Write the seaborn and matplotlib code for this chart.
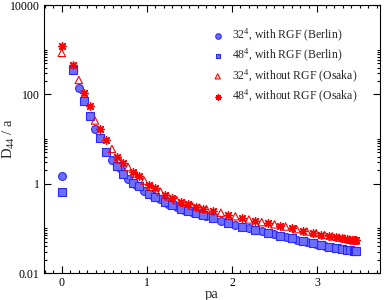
import matplotlib
matplotlib.use("Agg")
import matplotlib.pyplot as plt
import matplotlib.ticker as mticker
import seaborn as sns
import numpy as np
import pandas as pd

# momenta (p a) for the two lattice sizes
pa_32 = [0.00, 0.20, 0.39, 0.59, 0.68, 0.78, 0.87, 0.97, 1.06, 1.16, 1.25,
         1.35, 1.44, 1.53, 1.62, 1.70, 1.87, 2.04, 2.20, 2.35, 2.50, 2.63,
         2.76, 2.88, 2.99, 3.09, 3.18, 3.26, 3.32, 3.38, 3.42, 3.45, 3.46]
pa_48 = [0.00, 0.13, 0.26, 0.33, 0.45, 0.52, 0.65, 0.72, 0.84, 0.91, 1.03,
         1.10, 1.21, 1.29, 1.40, 1.48, 1.58, 1.66, 1.78, 1.95, 2.12, 2.27,
         2.42, 2.57, 2.70, 2.83, 2.95, 3.05, 3.14, 3.22, 3.29, 3.35, 3.39,
         3.43, 3.45, 3.46]

# D44 / a
berlin_32 = [1.5, 140, 17, 3.4, 2.2, 1.25, 0.95, 0.69, 0.55, 0.45, 0.355,
             0.30, 0.26, 0.235, 0.21, 0.19, 0.148, 0.12, 0.102, 0.087, 0.074,
             0.065, 0.056, 0.050, 0.045, 0.041, 0.038, 0.0355, 0.034, 0.0325,
             0.0316, 0.031, 0.031]
osaka_32 = [850, 210, 26, 6.0, 3.5, 2.35, 1.65, 1.17, 0.85, 0.66, 0.52,
            0.43, 0.37, 0.32, 0.29, 0.27, 0.224, 0.186, 0.158, 0.138, 0.123,
            0.11, 0.096, 0.085, 0.078, 0.071, 0.066, 0.062, 0.059, 0.056,
            0.055, 0.054, 0.054]
berlin_48 = [0.66, 360, 70, 32, 10.5, 5.2, 2.5, 1.65, 1.02, 0.87, 0.60,
             0.51, 0.38, 0.33, 0.275, 0.245, 0.22, 0.20, 0.17, 0.135, 0.11,
             0.093, 0.080, 0.069, 0.060, 0.052, 0.047, 0.043, 0.039, 0.036,
             0.035, 0.033, 0.0325, 0.0316, 0.031, 0.031]
osaka_48 = [1230, 450, 105, 54, 17, 9.5, 4.0, 2.95, 1.85, 1.48, 0.95,
            0.79, 0.56, 0.48, 0.39, 0.35, 0.30, 0.275, 0.24, 0.20, 0.17,
            0.148, 0.129, 0.115, 0.10, 0.089, 0.080, 0.072, 0.068, 0.063,
            0.060, 0.0575, 0.056, 0.055, 0.054, 0.054]

labels = ["32$^4$, with RGF (Berlin)", "48$^4$, with RGF (Berlin)",
          "32$^4$, without RGF (Osaka)", "48$^4$, without RGF (Osaka)"]

sns.set_style("ticks")
plt.rcParams["font.family"] = ["Liberation Serif", "DejaVu Serif"]
plt.rcParams["mathtext.fontset"] = "custom"
plt.rcParams["mathtext.rm"] = "Liberation Serif"
plt.rcParams["mathtext.it"] = "Liberation Serif:italic"

fig = plt.figure(figsize=(3.85, 3.0), dpi=100)
ax = fig.add_axes([0.114, 0.09, 0.873, 0.893])

blue_fill = "#6f6fff"
blue_edge = "#2b2bff"

sns.scatterplot(x=pa_32, y=berlin_32, ax=ax, marker="o", s=32, color=blue_fill,
                edgecolor=blue_edge, linewidth=0.8, label=labels[0], zorder=3)
sns.scatterplot(x=pa_48, y=berlin_48, ax=ax, marker="s", s=26, color=blue_fill,
                edgecolor=blue_edge, linewidth=0.8, label=labels[1], zorder=3)
sns.scatterplot(x=pa_32, y=osaka_32, ax=ax, marker="^", s=28, facecolor="none",
                edgecolor="red", linewidth=0.8, label=labels[2], zorder=4)
sns.scatterplot(x=pa_48, y=osaka_48, ax=ax, marker=(8, 2, 0), s=30, color="red",
                edgecolor="red", linewidth=1.0, label=labels[3], zorder=4)

ax.set_yscale("log")
ax.set_ylim(0.01, 10000)
ax.set_xlim(-0.21, 3.74)

ax.yaxis.set_major_locator(mticker.FixedLocator([0.01, 1, 100, 10000]))
ax.yaxis.set_major_formatter(mticker.FixedFormatter(["0.01", "1", "100", "10000"]))
ax.yaxis.set_minor_locator(mticker.LogLocator(base=100, subs=np.arange(2, 11)))
ax.yaxis.set_minor_formatter(mticker.NullFormatter())
ax.xaxis.set_major_locator(mticker.MultipleLocator(1))
ax.xaxis.set_minor_locator(mticker.MultipleLocator(0.1))

ax.tick_params(which="both", direction="in", top=True, right=True,
               labelsize=8.5, width=0.8, colors="black")
ax.tick_params(which="major", length=5, pad=3)
ax.tick_params(which="minor", length=2.5)
for sp in ax.spines.values():
    sp.set_linewidth(0.8)
    sp.set_color("black")

ax.set_xlabel("pa", fontsize=10.5)
ax.set_ylabel("D$_{44}$ / a", fontsize=10.5)
ax.xaxis.set_label_coords(0.5, -0.055)
ax.yaxis.set_label_coords(-0.08, 0.5)

leg = ax.legend(loc="upper left", bbox_to_anchor=(0.475, 0.945), frameon=False,
                fontsize=8.5, handletextpad=0.6, labelspacing=0.28,
                markerscale=0.7, handlelength=1.2, borderaxespad=0.2)

fig.savefig("out.png", dpi=100)
